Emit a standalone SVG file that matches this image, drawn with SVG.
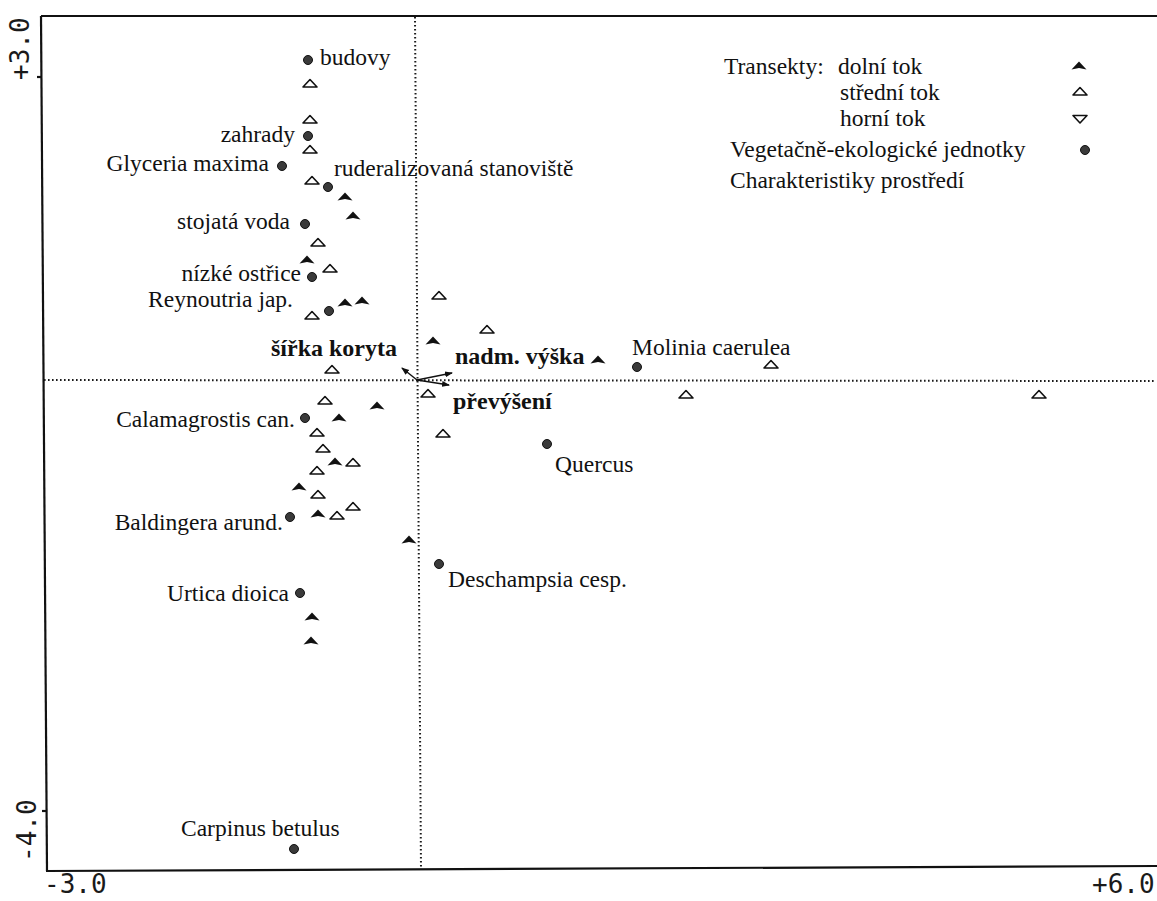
<svg xmlns="http://www.w3.org/2000/svg" width="1157" height="901" viewBox="0 0 1157 901">
<style>
.lbl{font-family:"Liberation Serif","Times New Roman",serif;font-size:23.5px;fill:#111}
.bold{font-family:"Liberation Serif","Times New Roman",serif;font-size:24px;font-weight:bold;fill:#111}
.ax{font-family:"DejaVu Sans Mono","Liberation Mono",monospace;font-size:26px;fill:#1a1a1a}
.frame{stroke:#111;stroke-width:2.2;fill:none}
.dot{stroke:#1a1a1a;stroke-width:2;stroke-dasharray:1.6 2.4;fill:none}
.arr{stroke:#111;stroke-width:1.4;fill:none}
</style>
<defs>
<path id="fT" d="M-7.5,3.5 L0,-4.5 L7.5,3.5 L0,2 Z" fill="#111"/>
<path id="oT" d="M-7,4 L0,-3.5 L7,4 Z" fill="#fff" stroke="#111" stroke-width="1.6" stroke-linejoin="round"/>
<path id="dT" d="M-7,-3.5 L7,-3.5 L0,4 Z" fill="#fff" stroke="#111" stroke-width="1.6" stroke-linejoin="round"/>
<circle id="cD" r="4.5" fill="#3a3a3a" stroke="#111" stroke-width="1"/>
<marker id="ah" markerWidth="8" markerHeight="8" refX="7" refY="4" orient="auto" markerUnits="userSpaceOnUse">
<path d="M0,1 L8,4 L0,7 Z" fill="#111"/>
</marker>
</defs>
<rect width="1157" height="901" fill="#fff"/>
<g id="frame">
<line class="frame" x1="41" y1="16" x2="1157" y2="16"/>
<line class="frame" x1="41" y1="16" x2="47" y2="871"/>
<line class="frame" x1="46" y1="871" x2="1157" y2="866"/>
<line class="frame" x1="37" y1="77" x2="42" y2="77"/>
<line class="frame" x1="42" y1="811" x2="47" y2="811"/>
<line class="dot" x1="415" y1="17" x2="421" y2="869"/>
<line class="dot" x1="44" y1="380" x2="1155" y2="381"/>
<text class="ax" transform="translate(29,80) rotate(-90)">+3.0</text>
<text class="ax" transform="translate(36,862) rotate(-90)">-4.0</text>
<text class="ax" x="44" y="893">-3.0</text>
<text class="ax" x="1092" y="893">+6.0</text>
</g>
<g id="connectors">
<line class="arr" x1="417" y1="380" x2="402" y2="368" marker-end="url(#ah)"/>
<line class="arr" x1="417" y1="380" x2="452" y2="373" marker-end="url(#ah)"/>
<line class="arr" x1="417" y1="380" x2="449" y2="385" marker-end="url(#ah)"/>
</g>
<g id="env-labels">
<text class="bold" x="397" y="356" text-anchor="end">šířka koryta</text>
<text class="bold" x="455" y="364">nadm. výška</text>
<text class="bold" x="453" y="409">převýšení</text>
</g>
<g id="units">
<g id="budovy"><use href="#cD" x="308" y="60"/><text class="lbl" x="320" y="65">budovy</text></g>
<g id="zahrady"><use href="#cD" x="308" y="136"/><text class="lbl" x="295" y="142" text-anchor="end">zahrady</text></g>
<g id="glyceria"><use href="#cD" x="282" y="166"/><text class="lbl" x="269" y="171" text-anchor="end">Glyceria maxima</text></g>
<g id="ruderal"><use href="#cD" x="328" y="187"/><text class="lbl" x="334" y="176">ruderalizovaná stanoviště</text></g>
<g id="stojata"><use href="#cD" x="305" y="224"/><text class="lbl" x="290" y="229" text-anchor="end">stojatá voda</text></g>
<g id="nizke"><use href="#cD" x="312" y="277"/><text class="lbl" x="301" y="281" text-anchor="end">nízké ostřice</text></g>
<g id="reynoutria"><use href="#cD" x="329" y="311"/><text class="lbl" x="293" y="307" text-anchor="end">Reynoutria jap.</text></g>
<g id="calamagrostis"><use href="#cD" x="305" y="418"/><text class="lbl" x="295" y="427" text-anchor="end">Calamagrostis can.</text></g>
<g id="baldingera"><use href="#cD" x="290" y="517"/><text class="lbl" x="283" y="530" text-anchor="end">Baldingera arund.</text></g>
<g id="urtica"><use href="#cD" x="300" y="593"/><text class="lbl" x="289" y="601" text-anchor="end">Urtica dioica</text></g>
<g id="carpinus"><use href="#cD" x="294" y="849"/><text class="lbl" x="181" y="836">Carpinus betulus</text></g>
<g id="deschampsia"><use href="#cD" x="439" y="564"/><text class="lbl" x="448" y="587">Deschampsia cesp.</text></g>
<g id="quercus"><use href="#cD" x="547" y="444"/><text class="lbl" x="555" y="472">Quercus</text></g>
<g id="molinia"><use href="#cD" x="637" y="367"/><text class="lbl" x="632" y="355">Molinia caerulea</text></g>
</g>
<g id="dolni-tok">
<use href="#fT" x="345" y="197"/><use href="#fT" x="353" y="216"/><use href="#fT" x="307" y="260"/>
<use href="#fT" x="345" y="303"/><use href="#fT" x="362" y="301"/><use href="#fT" x="377" y="406"/>
<use href="#fT" x="339" y="418"/><use href="#fT" x="335" y="462"/><use href="#fT" x="299" y="487"/>
<use href="#fT" x="318" y="514"/><use href="#fT" x="409" y="540"/><use href="#fT" x="312" y="617"/>
<use href="#fT" x="311" y="641"/><use href="#fT" x="433" y="341"/><use href="#fT" x="598" y="360"/>
</g>
<g id="stredni-tok">
<use href="#oT" x="310" y="83"/><use href="#oT" x="310" y="119"/><use href="#oT" x="310" y="149"/>
<use href="#oT" x="312" y="180"/><use href="#oT" x="318" y="242"/><use href="#oT" x="330" y="268"/>
<use href="#oT" x="312" y="315"/><use href="#oT" x="332" y="369"/><use href="#oT" x="325" y="400"/>
<use href="#oT" x="317" y="432"/><use href="#oT" x="323" y="448"/><use href="#oT" x="353" y="462"/>
<use href="#oT" x="317" y="470"/><use href="#oT" x="318" y="494"/><use href="#oT" x="337" y="515"/>
<use href="#oT" x="353" y="506"/><use href="#oT" x="428" y="393"/><use href="#oT" x="439" y="295"/>
<use href="#oT" x="487" y="329"/><use href="#oT" x="443" y="433"/><use href="#oT" x="686" y="394"/>
<use href="#oT" x="771" y="364"/><use href="#oT" x="1039" y="394"/>
</g>
<g id="legend">
<text class="lbl" x="724" y="74">Transekty: <tspan x="838">dolní tok</tspan></text>
<text class="lbl" x="840" y="100">střední tok</text>
<text class="lbl" x="840" y="126">horní tok</text>
<text class="lbl" x="730" y="157">Vegetačně-ekologické jednotky</text>
<text class="lbl" x="730" y="188">Charakteristiky prostředí</text>
<use href="#fT" x="1079" y="66"/>
<use href="#oT" x="1080" y="91"/>
<use href="#dT" x="1080" y="119"/>
<use href="#cD" x="1085" y="150"/>
</g>
</svg>
